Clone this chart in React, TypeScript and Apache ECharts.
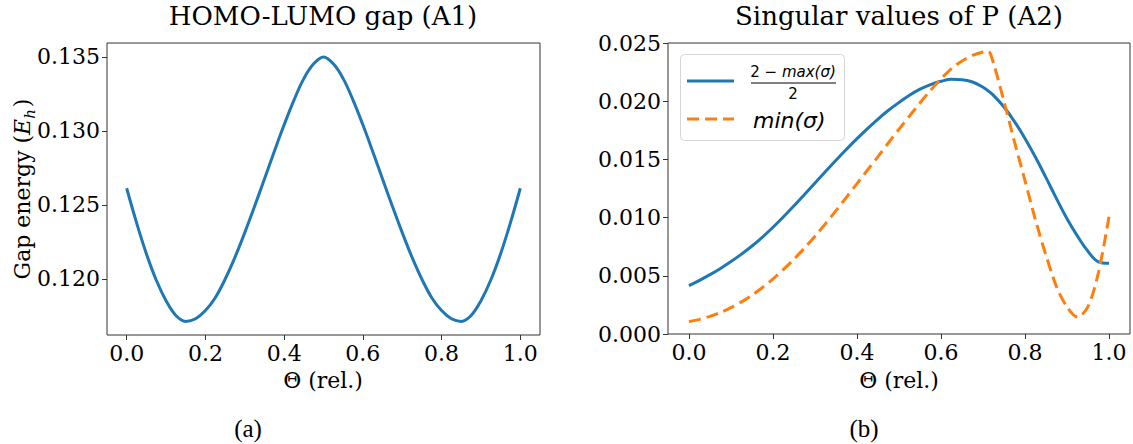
import React, { useEffect, useRef } from "react";
import * as echarts from "echarts";

// ---- Data ----
// Panel (a): HOMO-LUMO gap vs relative angle
const thetaA = [
  0, 0.025, 0.05, 0.075, 0.1, 0.125, 0.15, 0.175, 0.2, 0.225, 0.25, 0.275, 0.3, 0.325, 0.35, 0.375, 0.4,
  0.425, 0.45, 0.475, 0.5, 0.525, 0.55, 0.575, 0.6, 0.625, 0.65, 0.675, 0.7, 0.725, 0.75, 0.775, 0.8,
  0.825, 0.85, 0.875, 0.9, 0.925, 0.95, 0.975, 1.0,
];
const gapEnergy = [
  0.12612, 0.1238, 0.1217, 0.11992, 0.11852, 0.11752, 0.11712, 0.1173, 0.11785, 0.11872, 0.11997,
  0.12145, 0.12312, 0.1249, 0.12675, 0.12861, 0.13041, 0.13208, 0.13353, 0.13453, 0.135, 0.13453,
  0.13353, 0.13208, 0.13041, 0.12861, 0.12675, 0.1249, 0.12312, 0.12145, 0.11997, 0.11872, 0.11785,
  0.1173, 0.11712, 0.11752, 0.11852, 0.11992, 0.1217, 0.1238, 0.12612,
];

// Panel (b): singular values of P (values in units of 1e-3)
const thetaB = [
  0, 0.025, 0.05, 0.075, 0.1, 0.125, 0.15, 0.175, 0.2, 0.225, 0.25, 0.275, 0.3, 0.325, 0.35, 0.375, 0.4,
  0.425, 0.45, 0.475, 0.5, 0.525, 0.55, 0.575, 0.6, 0.625, 0.65, 0.675, 0.7, 0.7125, 0.725, 0.75, 0.775,
  0.8, 0.825, 0.85, 0.875, 0.9, 0.925, 0.95, 0.975, 1.0,
];
const halfGapMaxSigma = [
  4.15, 4.61, 5.1, 5.63, 6.22, 6.86, 7.56, 8.33, 9.17, 10.07, 11.01, 11.99, 12.98, 13.96, 14.93, 15.87,
  16.78, 17.65, 18.47, 19.22, 19.89, 20.51, 21.03, 21.43, 21.71, 21.88, 21.85, 21.65, 21.2, 20.88, 20.5,
  19.5, 18.25, 16.8, 15.18, 13.43, 11.63, 9.91, 8.41, 7.1, 6.2, 6.07,
];
const minSigma = [
  1.06, 1.26, 1.52, 1.85, 2.26, 2.76, 3.34, 4.0, 4.74, 5.55, 6.43, 7.38, 8.4, 9.48, 10.6, 11.75, 12.92,
  14.09, 15.24, 16.43, 17.59, 18.73, 19.85, 20.94, 21.92, 22.8, 23.45, 23.93, 24.23, 24.3, 23.26, 19.97,
  16.5, 13.18, 9.78, 6.76, 4.07, 2.33, 1.45, 2.36, 5.29, 10.08,
];

const xTicks = [0, 0.2, 0.4, 0.6, 0.8, 1.0];
const yTicksA = [0.12, 0.125, 0.13, 0.135];

const SERIF = "DejaVu Serif";
const MATH = "DejaVu Sans";
const BLUE = "#1f77b4";
const ORANGE = "#ff7f0e";

export default function App() {
  const ref = useRef<HTMLDivElement>(null);

  useEffect(() => {
    const chart = echarts.init(ref.current!, null, { renderer: "svg" });

    const tickLabel = {
      fontFamily: SERIF,
      fontSize: 22,
      color: "#000",
      margin: 7,
    };
    const tick = { show: true, inside: false, length: 5, lineStyle: { color: "#333", width: 1 } };

    const xAxisBase = (gridIndex: number) => ({
      type: "value",
      gridIndex,
      min: -0.05,
      max: 1.05,
      axisLine: { show: false, onZero: false },
      splitLine: { show: false },
      axisTick: { ...tick, customValues: xTicks },
      axisLabel: { ...tickLabel, customValues: xTicks, formatter: (v: number) => v.toFixed(1) },
    });

    const option: any = {
      animation: false,
      backgroundColor: "#fff",
      grid: [
        { left: 107, top: 43, width: 433, height: 292, show: true, borderColor: "#333", borderWidth: 1 },
        { left: 668, top: 43, width: 462, height: 291, show: true, borderColor: "#333", borderWidth: 1 },
      ],
      xAxis: [xAxisBase(0), xAxisBase(1)],
      yAxis: [
        {
          type: "value",
          gridIndex: 0,
          min: 0.1162,
          max: 0.13594,
          axisLine: { show: false, onZero: false },
          splitLine: { show: false },
          axisTick: { ...tick, customValues: yTicksA },
          axisLabel: { ...tickLabel, customValues: yTicksA, formatter: (v: number) => v.toFixed(3) },
        },
        {
          type: "value",
          gridIndex: 1,
          min: 0,
          max: 0.025,
          interval: 0.005,
          axisLine: { show: false, onZero: false },
          splitLine: { show: false },
          axisTick: tick,
          axisLabel: { ...tickLabel, formatter: (v: number) => v.toFixed(3) },
        },
      ],
      series: [
        {
          name: "HOMO-LUMO gap",
          type: "line",
          xAxisIndex: 0,
          yAxisIndex: 0,
          data: thetaA.map((t, i) => [t, gapEnergy[i]]),
          showSymbol: false,
          smooth: 0.4,
          lineStyle: { color: BLUE, width: 3 },
        },
        {
          name: "(2 - max(σ))/2",
          type: "line",
          xAxisIndex: 1,
          yAxisIndex: 1,
          data: thetaB.map((t, i) => [t, halfGapMaxSigma[i] / 1000]),
          showSymbol: false,
          smooth: 0.4,
          lineStyle: { color: BLUE, width: 3 },
        },
        {
          name: "min(σ)",
          type: "line",
          xAxisIndex: 1,
          yAxisIndex: 1,
          data: thetaB.map((t, i) => [t, minSigma[i] / 1000]),
          showSymbol: false,
          smooth: 0.3,
          lineStyle: { color: ORANGE, width: 3, type: [12, 6], cap: "butt" },
        },
      ],
      graphic: [
        // titles
        {
          type: "text",
          x: 323,
          y: 16,
          style: { text: "HOMO-LUMO gap (A1)", fontFamily: SERIF, fontSize: 26, fill: "#000", align: "center", verticalAlign: "middle" },
        },
        {
          type: "text",
          x: 899,
          y: 16,
          style: { text: "Singular values of P (A2)", fontFamily: SERIF, fontSize: 26, fill: "#000", align: "center", verticalAlign: "middle" },
        },
        // x axis names
        {
          type: "text",
          x: 323,
          y: 380,
          style: { text: "Θ (rel.)", fontFamily: SERIF, fontSize: 22, fill: "#000", align: "center", verticalAlign: "middle" },
        },
        {
          type: "text",
          x: 899,
          y: 380,
          style: { text: "Θ (rel.)", fontFamily: SERIF, fontSize: 22, fill: "#000", align: "center", verticalAlign: "middle" },
        },
        // y axis name (a)
        {
          type: "text",
          x: 22,
          y: 189,
          rotation: Math.PI / 2,
          style: {
            text: "{n|Gap energy (}{i|E}{s|h}{n|)}",
            align: "center",
            verticalAlign: "middle",
            fill: "#000",
            rich: {
              n: { fontFamily: SERIF, fontSize: 22, lineHeight: 30, verticalAlign: "middle" },
              i: { fontFamily: SERIF, fontStyle: "italic", fontSize: 22, lineHeight: 30, verticalAlign: "middle" },
              s: { fontFamily: SERIF, fontStyle: "italic", fontSize: 15, lineHeight: 30, verticalAlign: "bottom", padding: [0, 2, 0, 0] },
            },
          },
        },
        // sub captions
        {
          type: "text",
          x: 248,
          y: 428,
          style: { text: "(a)", fontFamily: "Liberation Serif", fontSize: 25, fill: "#000", align: "center", verticalAlign: "middle" },
        },
        {
          type: "text",
          x: 864,
          y: 428,
          style: { text: "(b)", fontFamily: "Liberation Serif", fontSize: 25, fill: "#000", align: "center", verticalAlign: "middle" },
        },
        // legend box
        {
          type: "rect",
          shape: { x: 680.5, y: 54.5, width: 164, height: 86, r: 4 },
          style: { fill: "rgba(255,255,255,0.8)", stroke: "#d6d6d6", lineWidth: 1 },
          z: 100,
        },
        {
          type: "line",
          shape: { x1: 687, y1: 81, x2: 734, y2: 81 },
          style: { stroke: BLUE, lineWidth: 3 },
          z: 101,
        },
        {
          type: "line",
          shape: { x1: 687, y1: 119, x2: 734, y2: 119 },
          style: { stroke: ORANGE, lineWidth: 3, lineDash: [12, 6] },
          z: 101,
        },
        {
          type: "text",
          x: 793,
          y: 72,
          z: 101,
          style: {
            text: "{n|2 − }{i|max(σ)}",
            align: "center",
            verticalAlign: "middle",
            fill: "#000",
            rich: {
              n: { fontFamily: MATH, fontSize: 15 },
              i: { fontFamily: MATH, fontStyle: "italic", fontSize: 15 },
            },
          },
        },
        {
          type: "line",
          shape: { x1: 751, y1: 83, x2: 836, y2: 83 },
          style: { stroke: "#000", lineWidth: 1 },
          z: 101,
        },
        {
          type: "text",
          x: 793,
          y: 94,
          z: 101,
          style: { text: "2", fontFamily: MATH, fontSize: 15, fill: "#000", align: "center", verticalAlign: "middle" },
        },
        {
          type: "text",
          x: 753,
          y: 120,
          z: 101,
          style: { text: "min(σ)", fontFamily: MATH, fontStyle: "italic", fontSize: 22, fill: "#000", align: "left", verticalAlign: "middle" },
        },
      ],
    };

    chart.setOption(option);
    return () => chart.dispose();
  }, []);

  return (
    <div
      ref={ref}
      style={{ position: "absolute", left: 0, top: 0, width: 1133, height: 444, background: "#fff" }}
    />
  );
}
